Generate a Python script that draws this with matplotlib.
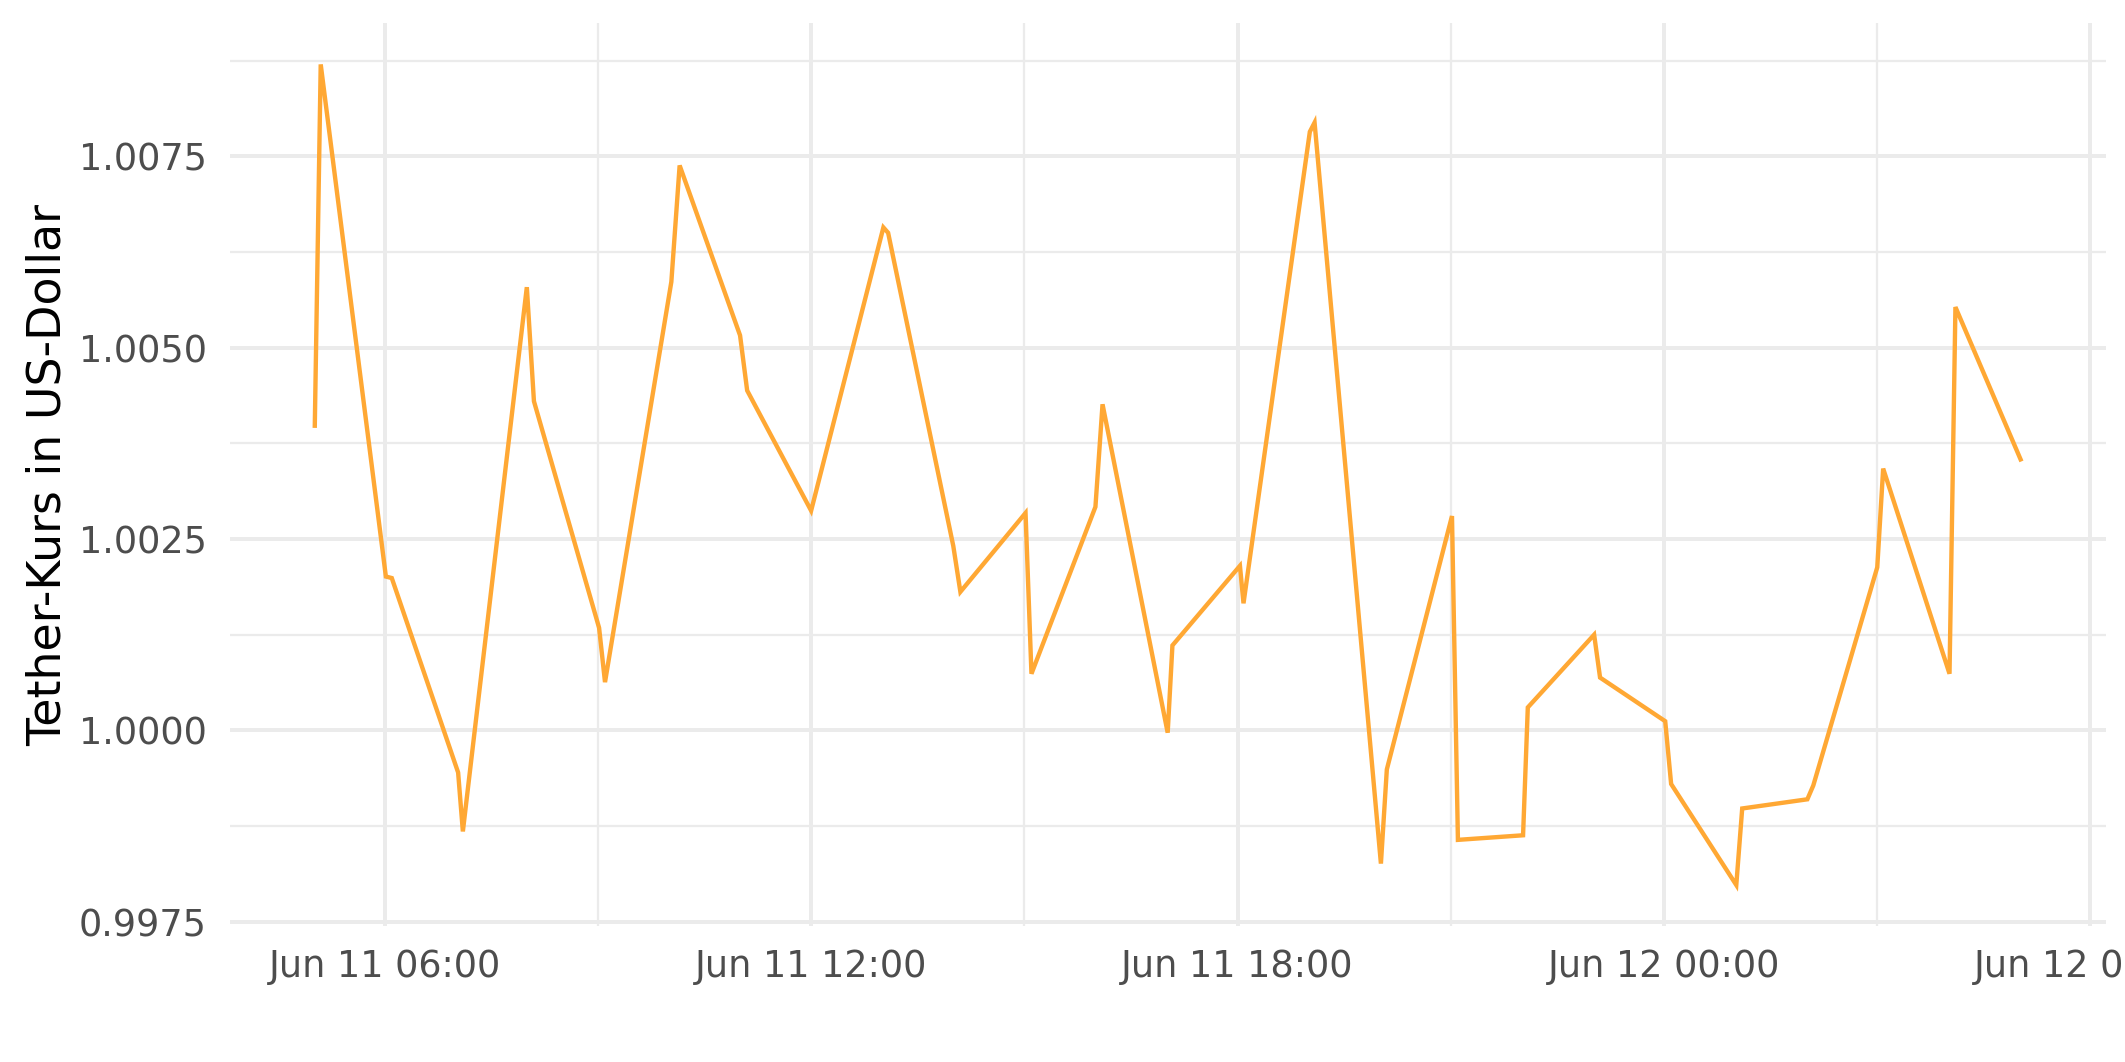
import matplotlib

matplotlib.use("Agg")

import matplotlib.dates as mdates  # noqa: E402
import matplotlib.pyplot as plt  # noqa: E402
import pandas as pd  # noqa: E402
from matplotlib.ticker import MultipleLocator  # noqa: E402

# Tether price readings (UTC)
times = [
    "2023-06-11 05:01", "2023-06-11 05:06", "2023-06-11 06:01", "2023-06-11 06:06",
    "2023-06-11 07:02", "2023-06-11 07:06", "2023-06-11 08:00", "2023-06-11 08:06",
    "2023-06-11 09:01", "2023-06-11 09:06", "2023-06-11 10:02", "2023-06-11 10:09",
    "2023-06-11 11:00", "2023-06-11 11:06", "2023-06-11 12:00", "2023-06-11 13:01",
    "2023-06-11 13:05", "2023-06-11 14:00", "2023-06-11 14:06", "2023-06-11 15:01",
    "2023-06-11 15:06", "2023-06-11 16:00", "2023-06-11 16:06", "2023-06-11 17:01",
    "2023-06-11 17:05", "2023-06-11 18:02", "2023-06-11 18:05", "2023-06-11 19:01",
    "2023-06-11 19:05", "2023-06-11 20:01", "2023-06-11 20:06", "2023-06-11 21:01",
    "2023-06-11 21:06", "2023-06-11 22:01", "2023-06-11 22:05", "2023-06-11 23:01",
    "2023-06-11 23:06", "2023-06-12 00:01", "2023-06-12 00:06", "2023-06-12 01:01",
    "2023-06-12 01:06", "2023-06-12 02:01", "2023-06-12 02:06", "2023-06-12 03:00",
    "2023-06-12 03:05", "2023-06-12 04:01", "2023-06-12 04:06", "2023-06-12 05:01",
]
prices = [
    1.00398, 1.00870, 1.00201, 1.00199, 0.99945, 0.99868, 1.00579, 1.00430,
    1.00134, 1.00063, 1.00586, 1.00738, 1.00516, 1.00444, 1.00287, 1.00657,
    1.00650, 1.00241, 1.00181, 1.00284, 1.00074, 1.00292, 1.00426, 0.99997,
    1.00111, 1.00215, 1.00166, 1.00782, 1.00794, 0.99826, 0.99949, 1.00280,
    0.99857, 0.99863, 1.00030, 1.00125, 1.00069, 1.00012, 0.99930, 0.99798,
    0.99898, 0.99910, 0.99928, 1.00213, 1.00342, 1.00074, 1.00553, 1.00354,
]

x = pd.to_datetime(times)

fig, ax = plt.subplots(figsize=(2125 / 300, 1062 / 300), dpi=300)
fig.subplots_adjust(left=0.108, right=0.991, top=0.978, bottom=0.128)

ax.plot(x, prices, color="#FFA834", linewidth=1.05, solid_joinstyle="miter")
ax.margins(x=0.05, y=0.05)

# ggplot-like minimal theme
for side in ax.spines.values():
    side.set_visible(False)
ax.xaxis.set_major_locator(mdates.HourLocator(byhour=[0, 6, 12, 18]))
ax.xaxis.set_minor_locator(mdates.HourLocator(byhour=[3, 9, 15, 21]))
ax.xaxis.set_major_formatter(mdates.DateFormatter("%b %d %H:%M"))
ax.yaxis.set_major_locator(MultipleLocator(0.0025))
ax.yaxis.set_minor_locator(MultipleLocator(0.00125))
ax.yaxis.set_major_formatter(lambda v, _: f"{v:.4f}")

ax.grid(which="major", color="#EBEBEB", linewidth=0.95)
ax.grid(which="minor", color="#EBEBEB", linewidth=0.55)
ax.set_axisbelow(True)
ax.tick_params(which="both", length=0)
ax.tick_params(axis="x", labelsize=8.8, labelcolor="#4D4D4D", pad=5.2)
ax.tick_params(axis="y", labelsize=8.8, labelcolor="#4D4D4D", pad=5.5)

ax.set_ylabel("Tether-Kurs in US-Dollar", fontsize=11, color="black", labelpad=1.8)

fig.savefig("out.png", dpi=300)
